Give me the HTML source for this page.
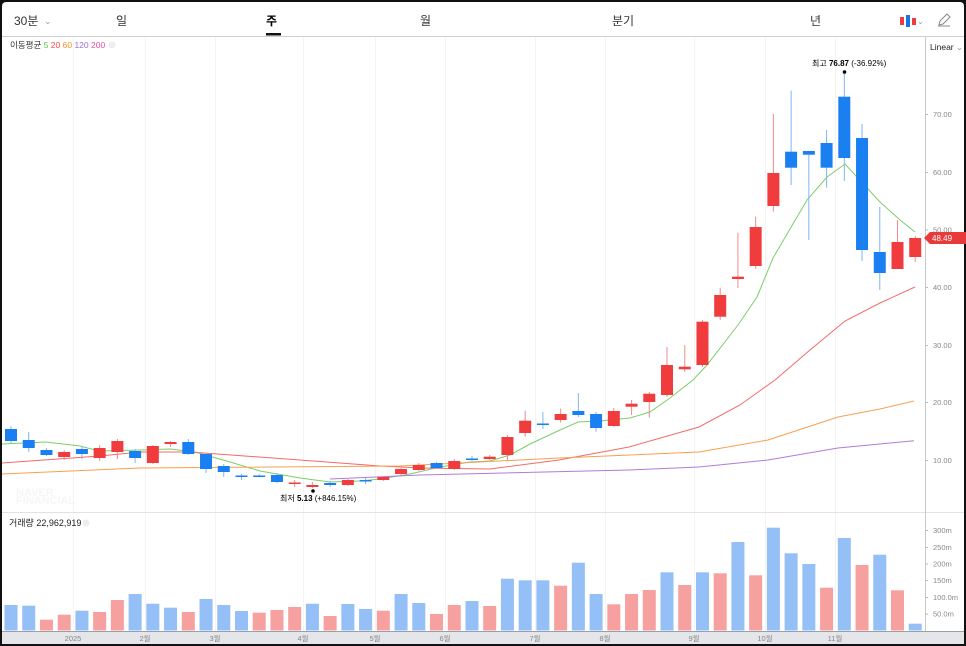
<!DOCTYPE html>
<html><head><meta charset="utf-8"><style>
html,body{margin:0;padding:0;background:#111;}
#w{position:absolute;left:2px;top:2px;width:962px;height:642px;background:#fff;border-radius:4px;overflow:hidden;font-family:"Liberation Sans","Noto Sans CJK KR",sans-serif;}
svg text{font-family:"Liberation Sans","Noto Sans CJK KR",sans-serif;}
</style></head><body>
<div id="w"></div>
<svg id="s" width="966" height="646" style="position:absolute;left:0;top:0" xmlns="http://www.w3.org/2000/svg">
<g id="grid" stroke="#f4f4f4" stroke-width="1"></g>
<line x1="2" y1="36.5" x2="964" y2="36.5" stroke="#cfcfcf"/>
<line x1="2" y1="512.5" x2="924" y2="512.5" stroke="#e2e2e2"/>
<line x1="924" y1="512.5" x2="964" y2="512.5" stroke="#e2e2e2"/>
<line x1="925.5" y1="37" x2="925.5" y2="631" stroke="#c8c8c8"/>
<rect x="2" y="631" width="962" height="13" fill="#e4e6ea"/>
<line x1="2" y1="631.5" x2="964" y2="631.5" stroke="#9aa0a8"/>
<g font-size="12" fill="#333">
<text x="14" y="25">30분</text><text x="44" y="24" font-size="9" fill="#999">⌄</text>
<text x="116" y="25">일</text>
<text x="266" y="25" font-weight="bold" fill="#000">주</text>
<text x="420" y="25">월</text>
<text x="612" y="25">분기</text>
<text x="810" y="25">년</text>
</g>
<rect x="266" y="33" width="15" height="2.5" fill="#111"/>
<g><rect x="900" y="17" width="4" height="8" fill="#f03c3c"/><rect x="906" y="15" width="4" height="12" fill="#1a73e8"/><rect x="912" y="18" width="4" height="7" fill="#f03c3c"/><text x="917" y="24" font-size="8" fill="#999">⌄</text></g>
<path d="M939 25 L940 21 L947 14 L950 17 L943 24 Z M938 26 L950 26" stroke="#888" fill="none" stroke-width="1"/>
<text x="10" y="48" font-size="8.5" fill="#333">이동평균 <tspan fill="#5cc44f">5</tspan> <tspan fill="#f44">20</tspan> <tspan fill="#f7931e">60</tspan> <tspan fill="#a66bd9">120</tspan> <tspan fill="#e84aa8">200</tspan></text>
<circle cx="112" cy="45" r="3.5" fill="#eee"/>
<text x="930" y="50" font-size="8.5" fill="#222">Linear <tspan fill="#999">⌄</tspan></text>
<text x="9" y="526" font-size="9" fill="#222">거래량 22,962,919</text>
<circle cx="86" cy="523" r="3.5" fill="#eee"/>
<text x="16" y="496" font-size="11" font-weight="bold" fill="#f5f6f8">NAVER</text>
<text x="16" y="504" font-size="11" font-weight="bold" fill="#f5f6f8">FINANCIAL</text>
<g id="yax" font-size="7.5" fill="#888"></g>
<g id="xl" font-size="7.5" fill="#888"></g>
<g id="lines" fill="none" stroke-width="1"></g>
<g id="c"></g>
<g id="v"></g>
<text x="812" y="66" font-size="8" fill="#000">최고 <tspan font-weight="bold">76.87</tspan> (-36.92%)</text>
<circle cx="844.5" cy="72" r="1.8" fill="#000"/>
<text x="280" y="501" font-size="8" fill="#000">최저 <tspan font-weight="bold">5.13</tspan> (+846.15%)</text>
<circle cx="313" cy="491" r="1.8" fill="#000"/>
<path d="M924 238 L930 232 L966 232 L966 244 L930 244 Z" fill="#e83a3a"/>
<text x="932" y="241" font-size="8" fill="#fff">48.49</text>
</svg>
<script>
var NS="http://www.w3.org/2000/svg";
function el(p,t,a){var e=document.createElementNS(NS,t);for(var k in a)e.setAttribute(k,a[k]);document.getElementById(p).appendChild(e);return e;}
var months=[[73,"2025"],[145,"2월"],[215,"3월"],[303,"4월"],[375,"5월"],[445,"6월"],[535,"7월"],[605,"8월"],[694,"9월"],[765,"10월"],[835,"11월"]];
months.forEach(function(m){el("grid","line",{x1:m[0]+.5,y1:37,x2:m[0]+.5,y2:631});var t=el("xl","text",{x:m[0],y:641,"text-anchor":"middle"});t.textContent=m[1];});
[[70,114],[60,172],[50,229.5],[40,287],[30,345],[20,402],[10,460]].forEach(function(p){el("yax","line",{x1:925,y1:p[1]+.5,x2:928,y2:p[1]+.5,stroke:"#bbb"});var t=el("yax","text",{x:933,y:p[1]+3});t.textContent=p[0].toFixed(2);});
[["300m",530],["250m",547],["200m",563.5],["150m",580],["100.0m",597],["50.0m",613.7]].forEach(function(p){el("yax","line",{x1:925,y1:p[1]+.5,x2:928,y2:p[1]+.5,stroke:"#bbb"});var t=el("yax","text",{x:933,y:p[1]+3});t.textContent=p[0];});
var C=[["b",429,441,426,443],["b",440,448,432,452],["b",450,455,448,456],["r",452,457,450,460],["b",449,454,446,459],["r",448,458,445,461],["r",441,452,439,459],["b",451,458,449,463],["r",446,463,445,464],["r",442,444,441,447],["b",442,454,439,455],["b",454,469,453,473],["b",466,472,464,477],["b",475.5,476.5,474,480],["b",475.5,476.5,474,477],["b",475,482,473,483],["r",482.5,483.5,480,487],["r",485,487,482,488],["b",483,485,481,487],["r",480,485,479,486],["b",480,481.5,478,484],["r",477,480,476,481],["r",469,474,468,475],["r",465,470,463,471],["b",463,468,462,469],["r",461,469,459,470],["b",458.5,459.5,456,461],["r",456.7,459,455,460],["r",437,455,435,460],["r",420.7,433,410.7,436.7],["b",423.5,424.5,412,429],["r",414,420,408.7,422.7],["b",411,415,393,417],["b",414,428,412,431.7],["r",411,426,408,427],["r",403.7,406.7,400,415],["r",393.7,402,392,417.7],["r",365,395,347,397],["r",366.7,369.3,345,372],["r",321.7,365,320,367],["r",295,316.7,287.7,320],["r",276.7,279,232.7,288],["r",227,266,216.7,268.7],["r",173,206,114,211.7],["b",151.7,167.7,90.7,185],["b",151,154.7,151,240],["b",143,167.7,130,187.7],["b",96.7,158,72,181],["b",138,250,124,260.7],["b",252,273,207,290],["r",242,269,220,269],["r",238,257,236,262]];
var V=[605,605.7,619.7,614.7,610.7,612,600,594,603.7,607.7,612,599,605,611,612.7,610,607,603.7,616,604,609,610.7,594,603,614,605,601,606,578.7,580.3,580.3,585.7,562.7,594,604.3,594,590,572.3,585,572.3,573.3,542,575.3,527.7,553.3,564,587.7,538,565,554.7,590.3,623.7];
var VC="bbrrbrrbbbrbbbrrrbrbbrbbrrbrbbbrbbrrrbrbrbrbbbrbrbrb";
for(var i=0;i<C.length;i++){var x=11+i*17.73,c=C[i],col=c[0]=="r"?"#f03c3c":"#1a7ff0",wc=c[0]=="r"?"#f58a8a":"#7fb5f5";
el("c","line",{x1:x,y1:c[3],x2:x,y2:c[4],stroke:wc,"stroke-width":1});
var h=Math.max(c[2]-c[1],1.5);el("c","rect",{x:x-6,y:c[1],width:12,height:h,fill:col});
var vc=VC[i]=="r"?"#f7a0a0":"#94bff7";el("v","rect",{x:x-6.5,y:V[i],width:13,height:630.5-V[i],fill:vc});}
function pl(pts,col){el("lines","polyline",{points:pts.map(function(p){return p.join(",")}).join(" "),stroke:col});}
pl([[2,444],[46,442],[80,446],[99,451],[140,450],[170,449],[195,452],[230,462],[260,471],[300,478],[330,482],[360,481],[380,479],[410,474],[440,467],[470,462],[490,461],[510,455],[530,444],[560,430],[578,422],[600,421],[630,418],[650,412],[670,398],[693,380],[707,365],[738,325],[757,297],[773,258],[807,200],[827,177],[845,164],[880,202],[900,220],[915,232]],"#7cce6b");
pl([[2,463],[100,456],[140,452],[190,452],[300,460],[380,466],[420,468],[490,469],[559,460],[629,447],[699,427],[740,405],[775,380],[810,350],[845,321],[880,303],[915,287]],"#f46a6a");
pl([[2,474],[140,468],[400,466],[420,465],[559,458],[699,452],[768,440],[838,417],[880,409],[914,401]],"#f7a050");
pl([[330,479],[420,475],[629,470],[699,467],[768,460],[838,448],[914,440.7]],"#b27ad9");
</script>
</body></html>
